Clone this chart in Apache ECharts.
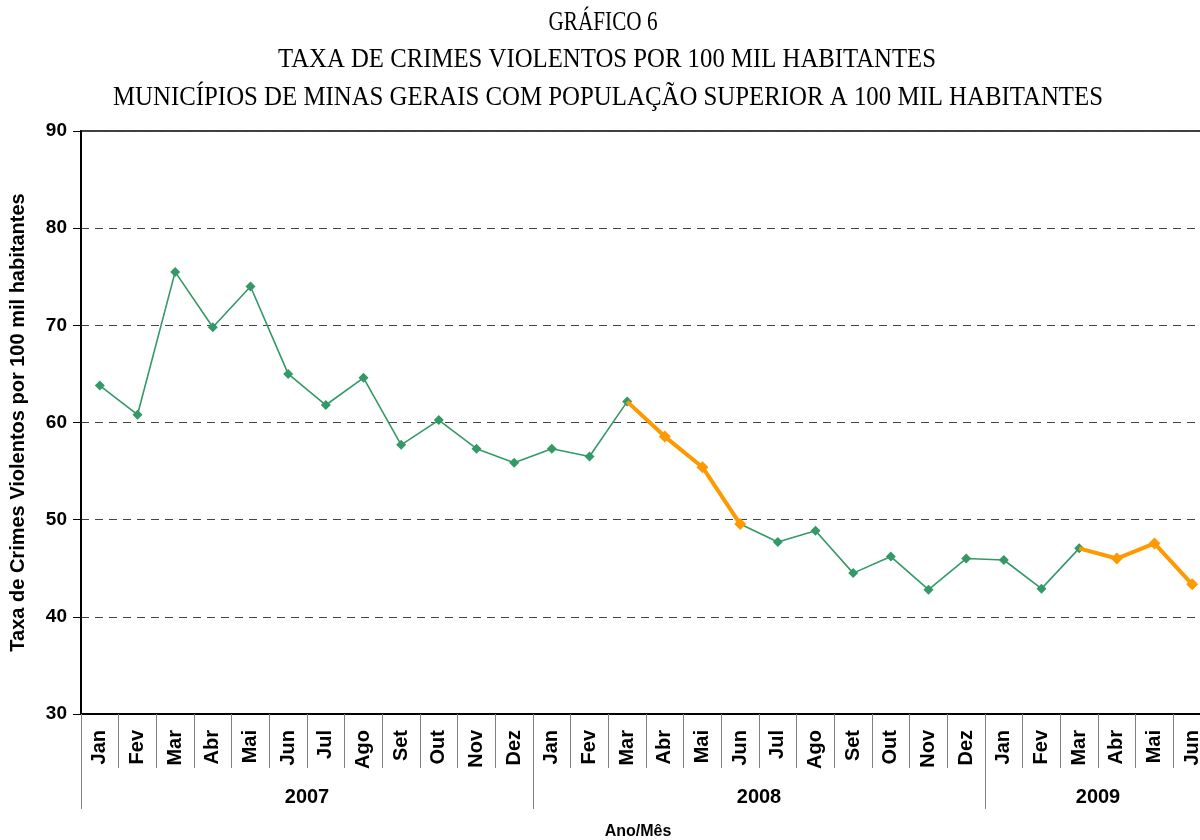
<!DOCTYPE html>
<html>
<head>
<meta charset="utf-8">
<script src="https://cdn.jsdelivr.net/npm/echarts@6/dist/echarts.min.js"></script>
<style>
  html, body { margin: 0; padding: 0; background: #fff; overflow: hidden; }
  #chart { width: 1212px; height: 840px; }
</style>
</head>
<body>
<div id="chart"></div>
<script>
// dados
const monthNames = ['Jan', 'Fev', 'Mar', 'Abr', 'Mai', 'Jun', 'Jul', 'Ago', 'Set', 'Out', 'Nov', 'Dez']
const years = ['2007', '2008', '2009']
const monthsPerYear = [12, 12, 6]
const rate = [
  63.8, 60.8, 75.5, 69.8, 74.0, 65.0, 61.8, 64.6, 57.7, 60.25, 57.3, 55.85,
  57.3, 56.5, 62.15, 58.55, 55.4, 49.55, 47.7, 48.85, 44.5, 46.2, 42.8, 46.0,
  45.85, 42.9, 47.05, 46.0, 47.55, 43.35
]
// trechos destacados em laranja (índice inicial, índice final)
const highlightRanges = [[14, 17], [26, 29]]
const titleLines = [
  'GRÁFICO 6',
  'TAXA DE CRIMES VIOLENTOS POR 100 MIL HABITANTES',
  'MUNICÍPIOS DE MINAS GERAIS COM POPULAÇÃO SUPERIOR A 100 MIL HABITANTES'
]

const GREEN = '#339966'
const ORANGE = '#ff9900'
const SANS = '"Liberation Sans", Arial, sans-serif'
const SERIF = '"Liberation Serif", "Times New Roman", serif'

// eixo de categorias: mês de cada ponto
const categories = []
monthsPerYear.forEach(n => {
  for (let i = 0; i < n; i++) categories.push(monthNames[i])
})

// limites e centros dos anos (em unidades de categoria)
const yearBounds = [0]
monthsPerYear.forEach(n => yearBounds.push(yearBounds[yearBounds.length - 1] + n))
const yearCenters = years.map((y, i) => (yearBounds[i] + yearBounds[i + 1]) / 2)

const orangeData = rate.map((v, i) => {
  const r = highlightRanges.find(([a, b]) => i >= a && i <= b)
  if (!r) return null
  return i === r[0] ? { value: v, symbol: 'none' } : v
})

// título: fonte serifada comprimida
const titleFont = '27px ' + SERIF
const titleTargets = [
  { x: 603, y: 23, w: 109 },
  { x: 607, y: 60, w: 658 },
  { x: 608, y: 98, w: 990 }
]
const ctx = document.createElement('canvas').getContext('2d')
ctx.font = titleFont
const titleGraphics = titleLines.map((t, i) => {
  const w = ctx.measureText(t).width
  return {
    type: 'text',
    x: titleTargets[i].x,
    y: titleTargets[i].y,
    scaleX: titleTargets[i].w / w,
    style: {
      text: t,
      x: 0,
      y: 0,
      font: titleFont,
      fill: '#000',
      textAlign: 'center',
      textVerticalAlign: 'middle'
    }
  }
})

const chart = echarts.init(document.getElementById('chart'))

chart.setOption({
  backgroundColor: '#fff',
  animation: false,
  graphic: titleGraphics.concat([{
    type: 'text',
    x: 638,
    y: 832,
    style: {
      text: 'Ano/Mês',
      font: 'bold 16px ' + SANS,
      fill: '#000',
      textAlign: 'center',
      textVerticalAlign: 'middle'
    }
  }]),
  grid: {
    left: 81,
    right: 1,
    top: 131,
    bottom: 126,
    show: true,
    borderColor: '#000',
    borderWidth: 1.5,
    containLabel: false
  },
  xAxis: [{
    type: 'category',
    data: categories,
    position: 'bottom',
    boundaryGap: true,
    axisLine: { show: true, lineStyle: { color: '#000', width: 2 } },
    axisTick: { show: true, interval: 0, length: 54, lineStyle: { color: '#808080', width: 1 } },
    axisLabel: {
      interval: 0,
      rotate: 90,
      margin: 16,
      color: '#000',
      fontFamily: SANS,
      fontWeight: 'bold',
      fontSize: 20
    },
    splitLine: { show: false }
  }, {
    type: 'value',
    position: 'bottom',
    min: 0,
    max: yearBounds[yearBounds.length - 1],
    axisLine: { show: false },
    axisTick: {
      show: true,
      customValues: yearBounds,
      length: 95,
      lineStyle: { color: '#808080', width: 1 }
    },
    axisLabel: {
      customValues: yearCenters,
      formatter: v => years[yearCenters.indexOf(v)] || '',
      margin: 73,
      color: '#000',
      fontFamily: SANS,
      fontWeight: 'bold',
      fontSize: 20
    },
    splitLine: { show: false }
  }],
  yAxis: {
    type: 'value',
    min: 30,
    max: 90,
    interval: 10,
    name: 'Taxa de Crimes Violentos por 100 mil habitantes',
    nameLocation: 'middle',
    nameGap: 53,
    nameTextStyle: {
      color: '#000',
      fontFamily: SANS,
      fontWeight: 'bold',
      fontSize: 20
    },
    axisLine: { show: true, lineStyle: { color: '#000', width: 2 } },
    axisTick: { show: true, length: 8, lineStyle: { color: '#000', width: 1 } },
    axisLabel: {
      margin: 14,
      color: '#000',
      fontFamily: SANS,
      fontWeight: 'bold',
      fontSize: 19
    },
    splitLine: { show: true, lineStyle: { color: '#444', type: [8, 6], width: 1 } }
  },
  series: [{
    name: 'Taxa',
    type: 'line',
    data: rate,
    symbol: 'diamond',
    symbolSize: 10,
    itemStyle: { color: GREEN },
    lineStyle: { color: GREEN, width: 1.6 },
    z: 3
  }, {
    name: 'Destaque',
    type: 'line',
    data: orangeData,
    connectNulls: false,
    symbol: 'diamond',
    symbolSize: 12,
    itemStyle: { color: ORANGE },
    lineStyle: { color: ORANGE, width: 4 },
    z: 4
  }]
})
</script>
</body>
</html>
